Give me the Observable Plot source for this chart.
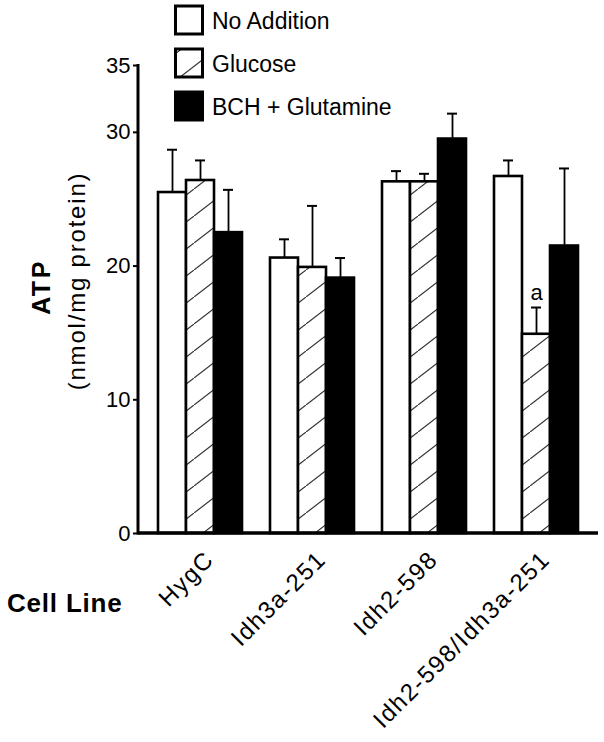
<!DOCTYPE html>
<html><head><meta charset="utf-8">
<script src="https://cdn.jsdelivr.net/npm/d3@7"></script>
<script src="https://cdn.jsdelivr.net/npm/@observablehq/plot@0.6"></script>
<style>
html,body{margin:0;padding:0;background:#fff;}
#chart{position:relative;width:604px;height:742px;}
</style></head><body><div id="chart"></div>
<script>
// ---- data ----
const cellLines = ["HygC", "Idh3a-251", "Idh2-598", "Idh2-598/Idh3a-251"];
const treatments = ["No Addition", "Glucose", "BCH + Glutamine"];
const noAddition    = [25.5, 20.6, 26.3, 26.7];
const noAdditionErr = [3.2, 1.4, 0.8, 1.2];
const glucose       = [26.4, 19.9, 26.3, 14.9];
const glucoseErr    = [1.5, 4.6, 0.6, 2.0];
const bchGln        = [22.5, 19.1, 29.5, 21.5];
const bchGlnErr     = [3.2, 1.5, 1.9, 5.8];
const annotations   = [{cell: "Idh2-598/Idh3a-251", treatment: "Glucose", text: "a"}];
const yTicks = [0, 10, 20, 30, 35];
const yLabelMain = "ATP";
const yLabelSub = "(nmol/mg protein)";
const xLabel = "Cell Line";

// ---- table ----
const series = [noAddition, glucose, bchGln];
const errs = [noAdditionErr, glucoseErr, bchGlnErr];
const data = [];
cellLines.forEach((c, i) => treatments.forEach((t, j) =>
  data.push({cell: c, treatment: t, value: series[j][i], err: errs[j][i]})));
const annData = annotations.map(a => {
  const d = data.find(r => r.cell === a.cell && r.treatment === a.treatment);
  return {...d, text: a.text};
});

const FONT = "'Liberation Sans', Arial, Helvetica, sans-serif";
const fills = {"No Addition": "#ffffff", "Glucose": "#fefefe", "BCH + Glutamine": "#000000"};
const W = 604, H = 742, mL = 138, mR = 6, mT = 65, mB = 209;

function build(gap) {
  return Plot.plot({
    width: W, height: H, marginTop: mT, marginBottom: mB, marginLeft: mL, marginRight: mR,
    style: {fontFamily: FONT, background: "#fff", color: "#000", overflow: "visible"},
    fx: {domain: cellLines, paddingInner: 0.24, paddingOuter: 0.17, label: null},
    x: {domain: treatments, padding: 0, axis: null},
    y: {domain: [0, 35], label: null},
    color: {type: "identity"},
    marks: [
      Plot.axisY({ticks: yTicks, tickFormat: d => String(d), tickSize: 5, tickPadding: 3,
        fontSize: 22, strokeWidth: 2, dx: -gap, label: null}),
      Plot.axisFx({anchor: "bottom", tickRotate: -45, tickSize: 0, tickPadding: 22, fontSize: 24,
        dx: 10, label: null}),
      Plot.barY(data, {fx: "cell", x: "treatment", y: "value", fill: d => fills[d.treatment],
        stroke: "#000", strokeWidth: 2.6}),
      Plot.ruleX(data, {fx: "cell", x: "treatment", y1: "value", y2: d => d.value + d.err,
        stroke: "#000", strokeWidth: 1.8}),
      Plot.tickY(data, {fx: "cell", x: "treatment", y: d => d.value + d.err,
        insetLeft: 9, insetRight: 9, stroke: "#000", strokeWidth: 2}),
      Plot.text(annData, {fx: "cell", x: "treatment", y: d => d.value + d.err, text: "text",
        dy: -15, fontSize: 22, fill: "#000"})
    ]
  });
}

let plot = build(0);
const gap = plot.scale("fx").apply(cellLines[0]) - mL;
plot = build(gap);
document.getElementById("chart").appendChild(plot);

const svg = d3.select(plot);
const y = plot.scale("y");

// hatch pattern
const defs = svg.insert("defs", ":first-child");
const pat = defs.append("pattern").attr("id", "hatch").attr("patternUnits", "userSpaceOnUse")
  .attr("width", 35).attr("height", 27);
pat.append("rect").attr("width", 35).attr("height", 27).attr("fill", "#fff");
pat.append("path").attr("d", "M-3.5,29.7L38.5,-2.7").attr("stroke", "#333").attr("stroke-width", 1.2);
svg.selectAll("rect").filter(function() { return this.getAttribute("fill") === "#fefefe"; })
  .attr("fill", "url(#hatch)");

// letter spacing for rotated labels
svg.selectAll('g[aria-label="fx-axis tick label"] text').style("letter-spacing", "1.6px");

// axis lines
const y0 = y.apply(0), yTop = y.apply(35);
svg.append("line").attr("x1", mL).attr("x2", W - mR).attr("y1", y0).attr("y2", y0)
  .attr("stroke", "#000").attr("stroke-width", 3.5);
svg.append("line").attr("x1", mL).attr("x2", mL).attr("y1", y0 + 1.5).attr("y2", yTop - 1)
  .attr("stroke", "#000").attr("stroke-width", 3);

// y label
svg.append("text").attr("transform", `translate(50,287) rotate(-90)`).attr("text-anchor", "middle")
  .attr("font-family", FONT).attr("font-weight", "bold").attr("font-size", 25)
  .style("letter-spacing", "2.5px").text(yLabelMain);
svg.append("text").attr("transform", `translate(85,281) rotate(-90)`).attr("text-anchor", "middle")
  .attr("font-family", FONT).attr("font-size", 24).style("letter-spacing", "1.8px").text(yLabelSub);

// x label
svg.append("text").attr("x", 7).attr("y", 612).attr("text-anchor", "start")
  .attr("font-family", FONT).attr("font-weight", "bold")
  .attr("font-size", 26).style("letter-spacing", "0.8px").text(xLabel);

// legend
const legendFills = ["#fff", "url(#hatch)", "#000"];
const lg = svg.append("g").attr("font-family", FONT).attr("font-size", 23).attr("text-anchor", "start");
treatments.forEach((t, i) => {
  const top = 6 + i * 43;
  lg.append("rect").attr("x", 175.5).attr("y", top).attr("width", 27).attr("height", 28)
    .attr("fill", legendFills[i]).attr("stroke", "#000").attr("stroke-width", 3);
  lg.append("text").attr("x", 212).attr("y", top + 23).text(t);
});
</script></body></html>
